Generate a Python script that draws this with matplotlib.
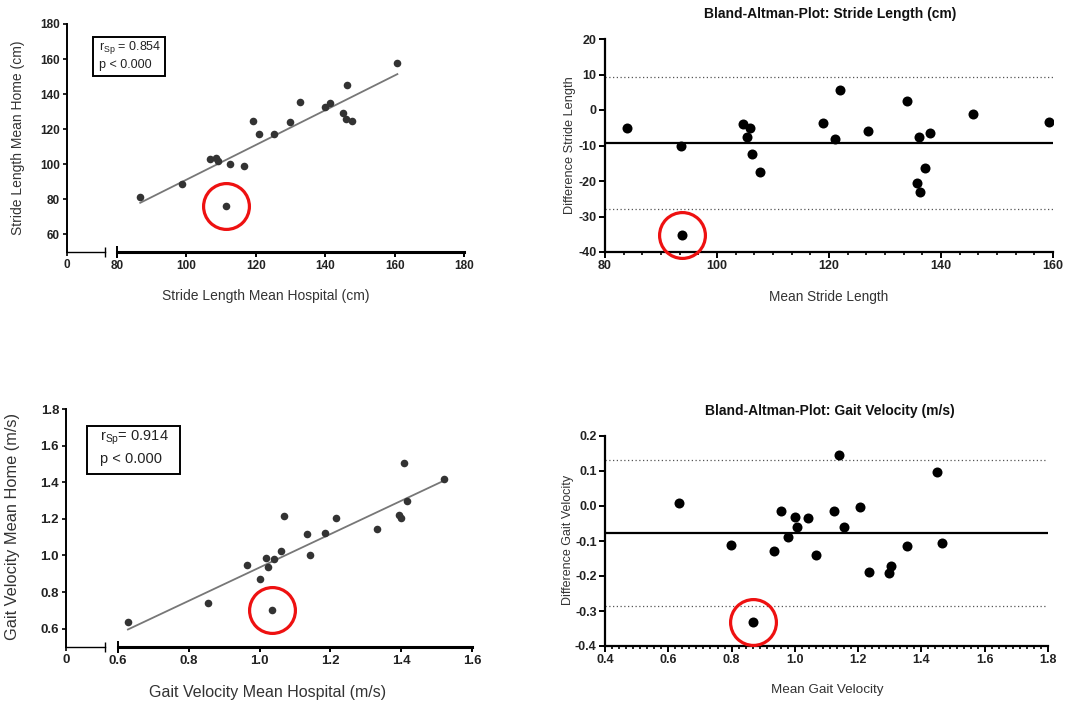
import numpy as np
import matplotlib.pyplot as plt
from matplotlib.patches import Rectangle
from matplotlib.ticker import MultipleLocator, FixedLocator

plt.rcParams['font.family'] = ['Liberation Sans', 'DejaVu Sans']
plt.rcParams['mathtext.fontset'] = 'custom'
plt.rcParams['mathtext.rm'] = 'Liberation Sans'

# Stride length (cm): hospital vs home
sl_hospital = [86.7, 98.7, 106.7, 108.5, 109.2, 112.6, 116.5, 111.5, 119.2, 121.0,
               125.2, 129.9, 132.6, 139.9, 141.3, 145.2, 145.9, 147.8, 146.2, 160.8]
sl_home = [81.6, 88.8, 102.8, 103.6, 101.9, 100.2, 99.0, 76.5, 124.9, 117.4,
           117.2, 124.4, 135.5, 132.7, 135.0, 129.3, 125.9, 124.9, 145.4, 157.9]

# Bland-Altman stride length
sl_ba_mean = [84.0, 93.6, 93.8, 104.7, 105.4, 105.9, 106.3, 107.6, 119.0, 121.1,
              122.0, 127.0, 133.9, 135.8, 136.2, 136.1, 137.1, 138.0, 145.7, 159.2]
sl_ba_diff = [-5.2, -10.1, -35.2, -4.0, -7.5, -5.2, -12.5, -17.6, -3.8, -8.2,
              5.5, -5.8, 2.6, -20.5, -23.1, -7.5, -16.3, -6.5, -1.2, -3.3]

# Gait velocity (m/s): hospital vs home
gv_hospital = [0.628, 0.854, 0.965, 1.000, 1.018, 1.025, 1.041, 1.060, 1.035, 1.070,
               1.133, 1.141, 1.186, 1.215, 1.332, 1.395, 1.400, 1.407, 1.417, 1.522]
gv_home = [0.637, 0.741, 0.949, 0.870, 0.987, 0.936, 0.981, 1.023, 0.702, 1.215,
           1.118, 1.001, 1.125, 1.207, 1.142, 1.220, 1.206, 1.503, 1.300, 1.415]

# Bland-Altman gait velocity
gv_ba_mean = [0.634, 0.797, 0.868, 0.934, 0.957, 0.978, 1.001, 1.008, 1.040, 1.068,
              1.124, 1.140, 1.154, 1.207, 1.233, 1.299, 1.304, 1.355, 1.449, 1.465]
gv_ba_diff = [0.009, -0.112, -0.331, -0.129, -0.014, -0.088, -0.031, -0.060, -0.034, -0.139,
              -0.013, 0.146, -0.059, -0.004, -0.188, -0.191, -0.171, -0.115, 0.098, -0.105]

W, H = 1085, 701
fig = plt.figure(figsize=(W / 100, H / 100), dpi=100)


def rect(x0, y0, x1, y1):
    # pixel box -> figure fraction
    return [x0 / W, 1 - y1 / H, (x1 - x0) / W, (y1 - y0) / H]


def label(px, py, s, fs, rot=0, **kw):
    fig.text(px / W, 1 - py / H, s, fontsize=fs, color=kw.pop('color', '#333333'),
             ha='center', va='center', rotation=rot, **kw)


def scatter_panel(top, bottom, seg, main, xlim, xticks, xfmt, ylim, yticks, yfmt,
                  x, y, stat, stat_box, stat_xy, tick_fs, stat_fs):
    axL = fig.add_axes(rect(seg[0], top, seg[1], bottom))
    axL.set_xlim(0, 1)
    axL.set_ylim(*ylim)
    axL.set_xticks([0])
    axL.set_xticklabels(['0'])
    axL.xaxis.set_minor_locator(FixedLocator([1]))
    axL.set_yticks(yticks)
    axL.set_yticklabels([yfmt % v for v in yticks])
    for s in ['top', 'right']:
        axL.spines[s].set_visible(False)
    axL.spines['left'].set_linewidth(1.4)
    axL.spines['bottom'].set_linewidth(1.0)
    axL.tick_params(which='major', direction='out', length=3, width=1.2,
                    labelsize=tick_fs, pad=2, labelcolor='#222222')
    axL.tick_params(which='minor', direction='inout', length=7, width=1.0)
    axL.patch.set_alpha(0)

    axM = fig.add_axes(rect(main[0], top, main[1], bottom))
    axM.set_xlim(*xlim)
    axM.set_ylim(*ylim)
    axM.set_yticks([])
    axM.set_xticks(xticks)
    axM.set_xticklabels([xfmt % v for v in xticks])
    axM.xaxis.remove_overlapping_locs = False
    axM.xaxis.set_minor_locator(FixedLocator([xlim[0]]))
    for s in ['top', 'right', 'left']:
        axM.spines[s].set_visible(False)
    axM.spines['bottom'].set_linewidth(2.2)
    axM.tick_params(which='major', direction='out', length=3.5, width=1.4,
                    labelsize=tick_fs, pad=2, labelcolor='#222222')
    axM.tick_params(which='minor', direction='inout', length=8, width=1.4)
    axM.patch.set_alpha(0)

    for lab in axL.get_xticklabels() + axL.get_yticklabels() + axM.get_xticklabels():
        lab.set_fontweight('bold')

    x = np.array(x)
    y = np.array(y)
    k, b = np.polyfit(x, y, 1)
    xs = np.array([x.min(), x.max()])
    axM.plot(xs, k * xs + b, color='#777777', lw=1.3, zorder=2)
    axM.scatter(x, y, s=30, color='#333333', zorder=3, linewidths=0)
    i = np.argmin(y - (k * x + b))
    axM.plot(x[i], y[i], 'o', ms=33, mfc='none', mec='#ee1111', mew=2.3, zorder=4,
             clip_on=False)

    x0, y0, x1, y1 = stat_box
    fig.add_artist(Rectangle((x0 / W, 1 - y1 / H), (x1 - x0) / W, (y1 - y0) / H,
                             transform=fig.transFigure, fc='white', ec='black', lw=1.4))
    for line, py in zip(stat, stat_xy[1]):
        fig.text(stat_xy[0] / W, 1 - py / H, line, fontsize=stat_fs, color='#222222',
                 va='center', ha='left')


def ba_panel(top, bottom, left, right, xlim, xticks, xminor, xfmt, ylim, yticks, yfmt,
             x, d):
    ax = fig.add_axes(rect(left, top, right, bottom))
    ax.set_xlim(*xlim)
    ax.set_ylim(*ylim)
    ax.set_xticks(xticks)
    ax.set_xticklabels([xfmt % v for v in xticks])
    ax.xaxis.set_minor_locator(MultipleLocator(xminor))
    ax.set_yticks(yticks)
    ax.set_yticklabels([yfmt % v for v in yticks])
    for s in ['top', 'right']:
        ax.spines[s].set_visible(False)
    ax.spines['left'].set_linewidth(1.6)
    ax.spines['bottom'].set_linewidth(1.6)
    ax.tick_params(which='major', direction='out', length=4, width=1.4,
                   labelsize=9, pad=2, labelcolor='#222222')
    ax.tick_params(which='minor', direction='out', length=2.5, width=1.2)
    for lab in ax.get_xticklabels() + ax.get_yticklabels():
        lab.set_fontweight('bold')

    x = np.array(x)
    d = np.array(d)
    bias = d.mean()
    sd = d.std(ddof=1)
    ax.axhline(bias, color='black', lw=1.6, zorder=2)
    ax.axhline(bias + 1.96 * sd, color='#555555', lw=0.9, ls=(0, (1, 2)), zorder=2)
    ax.axhline(bias - 1.96 * sd, color='#555555', lw=0.9, ls=(0, (1, 2)), zorder=2)
    ax.scatter(x, d, s=52, color='black', zorder=3, linewidths=0)
    i = np.argmin(d)
    ax.plot(x[i], d[i], 'o', ms=33, mfc='none', mec='#ee1111', mew=2.3, zorder=4,
            clip_on=False)
    return ax


# top left: stride length correlation
scatter_panel(24, 252, (67, 105), (117, 464), (80, 180), list(range(80, 181, 20)), '%d',
              (50, 180), list(range(60, 181, 20)), '%d',
              sl_hospital, sl_home, ['r$_{\\rm Sp}$ = 0.854', 'p < 0.000'],
              (93, 37, 165, 76), (99, (48, 65)), 8.5, 9)
label(266, 296, 'Stride Length Mean Hospital (cm)', 10)
label(18, 138, 'Stride Length Mean Home (cm)', 10, rot=90)

# top right: Bland-Altman stride length
ba_panel(39, 252, 605, 1053, (80, 160), list(range(80, 161, 20)), 20 / 6, '%d',
         (-40, 20), list(range(-40, 21, 10)), '%d', sl_ba_mean, sl_ba_diff)
label(830, 14, 'Bland-Altman-Plot: Stride Length (cm)', 10, fontweight='bold',
      color='#111111')
label(829, 297, 'Mean Stride Length', 9.8)
label(570, 145, 'Difference Stride Length', 9.2, rot=90)

# bottom left: gait velocity correlation
scatter_panel(409, 647, (66, 105), (118, 472), (0.6, 1.6), [0.6, 0.8, 1.0, 1.2, 1.4, 1.6], '%.1f',
              (0.5, 1.8), [0.6, 0.8, 1.0, 1.2, 1.4, 1.6, 1.8], '%.1f',
              gv_hospital, gv_home, ['r$_{\\rm Sp}$= 0.914', 'p < 0.000'],
              (87, 426, 180, 474), (100, (438, 459)), 9.5, 10.5)
label(268, 692, 'Gait Velocity Mean Hospital (m/s)', 11.5)
label(13, 527, 'Gait Velocity Mean Home (m/s)', 11.8, rot=90)

# bottom right: Bland-Altman gait velocity
ba_panel(436, 646, 605, 1048, (0.4, 1.8), [0.4, 0.6, 0.8, 1.0, 1.2, 1.4, 1.6, 1.8], 0.2 / 9, '%.1f',
         (-0.4, 0.2), [-0.4, -0.3, -0.2, -0.1, 0.0, 0.1, 0.2], '%.1f', gv_ba_mean, gv_ba_diff)
label(830, 411, 'Bland-Altman-Plot: Gait Velocity (m/s)', 10, fontweight='bold',
      color='#111111')
label(827, 690, 'Mean Gait Velocity', 9.7)
label(568, 540, 'Difference Gait Velocity', 9, rot=90)

fig.savefig('out.png', dpi=100, facecolor='white')
